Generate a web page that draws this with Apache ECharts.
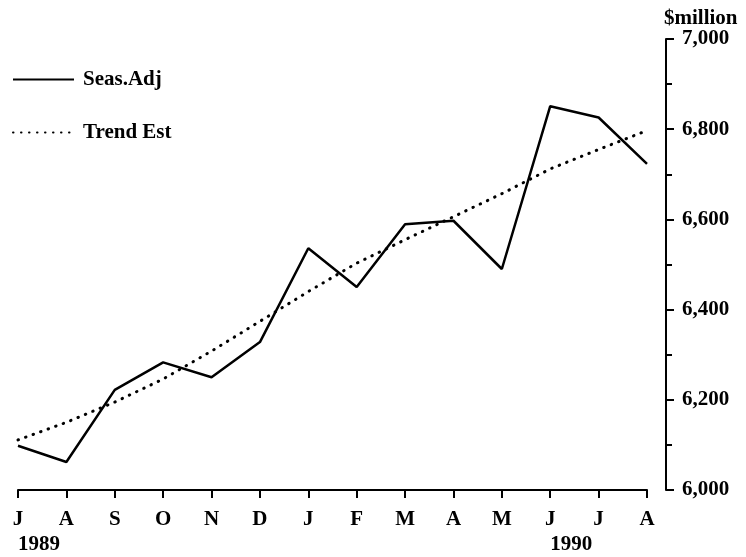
<!DOCTYPE html>
<html>
<head>
<meta charset="utf-8">
<script src="https://cdn.jsdelivr.net/npm/echarts@6/dist/echarts.min.js"></script>
<style>
html,body{margin:0;padding:0;background:#fff;}
#chart{width:746px;height:557px;}
</style>
</head>
<body>
<div id="chart"></div>
<script>
var months = ['J','A','S','O','N','D','J','F','M','A','M','J','J','A'];
var years = ['1989','','','','','','','','','','','1990','',''];
var seasAdj = [6098, 6062, 6222, 6283, 6250, 6328, 6536, 6450, 6589, 6597, 6490, 6851, 6826, 6723];
var trendEst = [6111, 6150, 6195, 6246, 6308, 6374, 6440, 6503, 6555, 6606, 6657, 6712, 6755, 6797];
var yTicks = {min: 6000, max: 7000, step: 200};
var unitLabel = '$million';
var seriesNames = ['Seas.Adj', 'Trend Est'];

var font = 'Liberation Serif';
var fs = 21;
var chart = echarts.init(document.getElementById('chart'), null, {renderer: 'canvas'});
chart.setOption({
  backgroundColor: '#ffffff',
  animation: false,
  grid: {left: 18, right: 99, top: 39, bottom: 67, containLabel: false},
  legend: {
    orient: 'vertical', left: 12, top: 69, padding: 0,
    itemWidth: 61, itemHeight: 20, itemGap: 32,
    itemStyle: {opacity: 0},
    textStyle: {fontFamily: font, fontWeight: 'bold', fontSize: fs, color: '#000', padding: [0,0,0,4]},
    data: seriesNames
  },
  xAxis: [{
    type: 'category', data: months, boundaryGap: false,
    axisLine: {show: true, lineStyle: {color: '#000', width: 2}},
    axisTick: {show: true, length: 8, lineStyle: {color: '#000', width: 2}},
    axisLabel: {margin: 19, fontFamily: font, fontWeight: 'bold', fontSize: fs, color: '#000', interval: 0},
    splitLine: {show: false}
  }, {
    type: 'category', data: years, boundaryGap: false, position: 'bottom',
    axisLine: {show: false}, axisTick: {show: false},
    axisLabel: {margin: 44, align: 'left', fontFamily: font, fontWeight: 'bold', fontSize: fs, color: '#000', interval: 0},
    splitLine: {show: false}
  }],
  yAxis: {
    type: 'value', position: 'right', offset: 19,
    min: yTicks.min, max: yTicks.max, interval: yTicks.step,
    name: unitLabel, nameLocation: 'end', nameGap: 10,
    nameTextStyle: {fontFamily: font, fontWeight: 'bold', fontSize: fs, color: '#000', align: 'left', padding: [0,0,0,-2]},
    axisLine: {show: true, lineStyle: {color: '#000', width: 2}},
    axisTick: {show: true, length: 8, lineStyle: {color: '#000', width: 2}},
    minorTick: {show: true, splitNumber: 2, length: 6, lineStyle: {color: '#000', width: 2}},
    axisLabel: {margin: 16, fontFamily: font, fontWeight: 'bold', fontSize: fs, color: '#000',
      formatter: function (v) { return v.toLocaleString('en-US'); }},
    splitLine: {show: false}
  },
  series: [{
    name: seriesNames[0], type: 'line', data: seasAdj, xAxisIndex: 0,
    symbol: 'none', lineStyle: {color: '#000', width: 2.5}, itemStyle: {color: '#000'}
  }, {
    name: seriesNames[1], type: 'line', data: trendEst, xAxisIndex: 0,
    symbol: 'none', lineStyle: {color: '#000', width: 3, type: [0.5, 7.5], cap: 'round'}, itemStyle: {color: '#000'}
  }]
});
</script>
</body>
</html>
